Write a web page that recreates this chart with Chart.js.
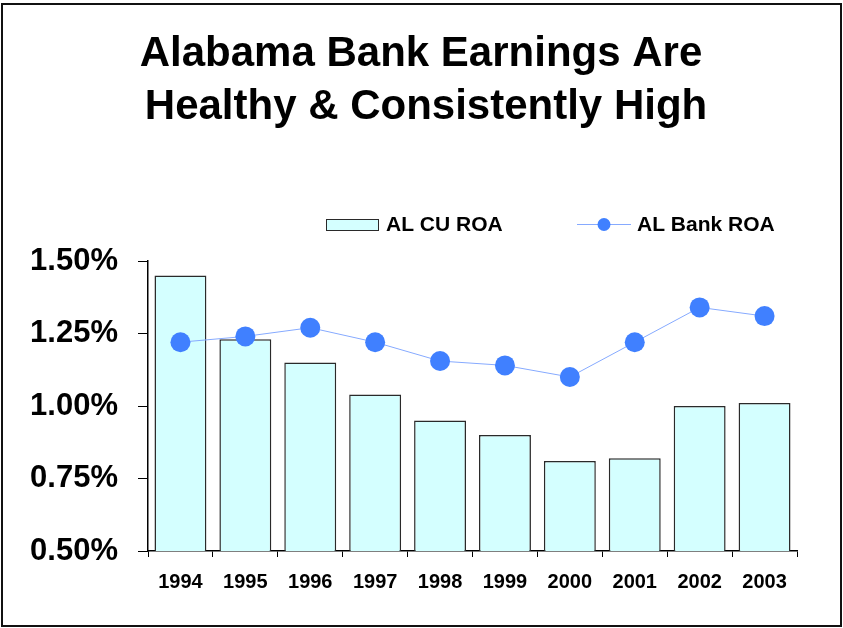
<!DOCTYPE html>
<html>
<head>
<meta charset="utf-8">
<title>Alabama Bank Earnings</title>
<script src="https://cdn.jsdelivr.net/npm/chart.js@4.4.1/dist/chart.umd.min.js"></script>
<style>
  html, body { margin: 0; padding: 0; background: #fff; }
  #wrap { position: relative; width: 843px; height: 628px; overflow: hidden; }
  #frame {
    position: absolute; left: 1px; top: 3px;
    width: 837px; height: 620px;
    border: 2px solid #111;
    pointer-events: none;
  }
  #roaChart { position: absolute; left: 0; top: 0; }
</style>
</head>
<body>
<div id="wrap">
  <canvas id="roaChart" width="843" height="628"></canvas>
  <div id="frame"></div>
</div>
<script>
// Return on assets, percent
const years = ['1994', '1995', '1996', '1997', '1998', '1999', '2000', '2001', '2002', '2003'];
const cuRoa = [1.45, 1.23, 1.15, 1.04, 0.95, 0.90, 0.81, 0.82, 1.00, 1.01];
const bankRoa = [1.22, 1.24, 1.27, 1.22, 1.155, 1.14, 1.10, 1.22, 1.34, 1.31];
const titleLines = ['Alabama Bank Earnings Are', 'Healthy & Consistently High'];

const FONT = '"Liberation Sans", Arial, Helvetica, sans-serif';
const BAR_FILL = '#d4ffff';
const BAR_EDGE = '#2a2a2a';
const DOT = '#4080ff';
const LINE = '#86aaff';

// Title and legend are painted straight onto the canvas
const headerPlugin = {
  id: 'header',
  afterDraw(chart) {
    const ctx = chart.ctx;
    const sets = chart.data.datasets;
    ctx.save();
    ctx.fillStyle = '#000';
    ctx.textAlign = 'center';
    ctx.textBaseline = 'alphabetic';
    ctx.font = 'bold 42px ' + FONT;
    ctx.fillText(titleLines[0], 421, 66);
    ctx.fillText(titleLines[1], 426, 119);

    // bar series key
    ctx.fillStyle = BAR_FILL;
    ctx.fillRect(326.5, 219.5, 52, 11);
    ctx.strokeStyle = BAR_EDGE;
    ctx.lineWidth = 1;
    ctx.strokeRect(326.5, 219.5, 52, 11);
    ctx.font = 'bold 21px ' + FONT;
    ctx.textAlign = 'left';
    ctx.textBaseline = 'middle';
    ctx.fillStyle = '#000';
    ctx.fillText(sets[1].label, 386, 225);

    // line series key
    ctx.strokeStyle = LINE;
    ctx.beginPath();
    ctx.moveTo(577, 224.5);
    ctx.lineTo(631, 224.5);
    ctx.stroke();
    ctx.fillStyle = DOT;
    ctx.beginPath();
    ctx.arc(604, 224.5, 6.5, 0, Math.PI * 2);
    ctx.fill();
    ctx.fillStyle = '#000';
    ctx.fillText(sets[0].label, 637, 225);
    ctx.restore();
  }
};

new Chart(document.getElementById('roaChart'), {
  type: 'bar',
  data: {
    labels: years,
    datasets: [
      {
        type: 'line',
        label: 'AL Bank ROA',
        data: bankRoa,
        borderColor: LINE,
        borderWidth: 1,
        backgroundColor: DOT,
        pointBackgroundColor: DOT,
        pointBorderColor: DOT,
        pointRadius: 10,
        pointBorderWidth: 0,
        tension: 0,
        order: 0
      },
      {
        label: 'AL CU ROA',
        data: cuRoa,
        backgroundColor: BAR_FILL,
        borderColor: BAR_EDGE,
        borderWidth: 1.5,
        barPercentage: 0.8,
        categoryPercentage: 1.0,
        order: 1
      }
    ]
  },
  options: {
    responsive: false,
    animation: false,
    layout: { padding: { top: 261, left: 29, right: 46, bottom: 21 } },
    plugins: {
      legend: { display: false },
      title: { display: false },
      tooltip: { enabled: false }
    },
    scales: {
      x: {
        grid: {
          drawOnChartArea: false,
          drawTicks: true,
          tickLength: 6,
          color: '#000',
          offset: true
        },
        border: { color: '#000', width: 1.5 },
        ticks: {
          color: '#000',
          padding: 13,
          font: { family: FONT, size: 20, weight: 'bold' }
        }
      },
      y: {
        min: 0.5,
        max: 1.5,
        grid: {
          drawOnChartArea: false,
          drawTicks: true,
          tickLength: 10,
          color: '#000'
        },
        border: { color: '#000', width: 1.5 },
        ticks: {
          stepSize: 0.25,
          color: '#000',
          padding: 20,
          font: { family: FONT, size: 31, weight: 'bold' },
          callback: v => v.toFixed(2) + '%'
        },
        afterFit(scale) { scale.width = 119; }
      }
    }
  },
  plugins: [headerPlugin]
});
</script>
</body>
</html>
